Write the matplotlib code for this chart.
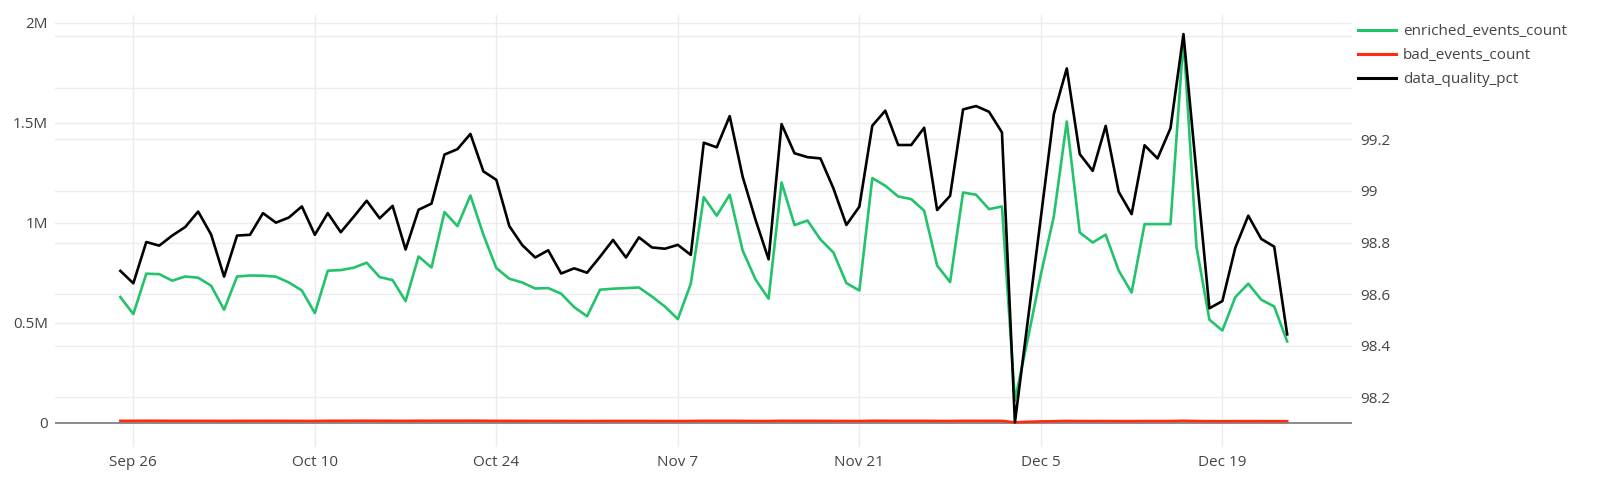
import numpy as np
import pandas as pd
import matplotlib
matplotlib.use("Agg")
import matplotlib.pyplot as plt
import matplotlib.dates as mdates
from matplotlib.lines import Line2D

plt.rcParams['font.family'] = ['Open Sans', 'DejaVu Sans']

# daily values, Sep 25 .. Dec 24
dates = pd.date_range("2022-09-25", "2022-12-24", freq="D")

enriched_m = [
    0.627, 0.542, 0.744, 0.742, 0.709, 0.730,                      # Sep 25-30
    0.724, 0.684, 0.564, 0.730, 0.735, 0.734, 0.729, 0.700, 0.660, 0.547,
    0.759, 0.762, 0.774, 0.799, 0.727, 0.712, 0.607, 0.830, 0.775, 1.052,
    0.982, 1.135, 0.939, 0.772, 0.719, 0.700, 0.670, 0.672, 0.644, 0.577,
    0.531,                                                          # Oct
    0.664, 0.669, 0.672, 0.675, 0.630, 0.580, 0.517, 0.694, 1.127, 1.034,
    1.139, 0.860, 0.714, 0.619, 1.200, 0.987, 1.010, 0.915, 0.850, 0.697,
    0.660, 1.222, 1.184, 1.130, 1.117, 1.059, 0.785, 0.702, 1.150, 1.139,  # Nov
    1.067, 1.080, 0.110, 0.420, 0.740, 1.030, 1.505, 0.950, 0.900, 0.939,
    0.760, 0.650, 0.992, 0.992, 0.992, 1.922, 0.880, 0.514, 0.460, 0.627,
    0.694, 0.614, 0.580, 0.405,                                     # Dec
]
enriched = [v * 1e6 for v in enriched_m]

bad = [
    8200, 8400, 8600, 8500, 8300, 8400,
    8200, 8100, 7900, 8000, 8100, 8300, 8200, 8000, 7800, 7600,
    8400, 8500, 8600, 8800, 8500, 8400, 8100, 8700, 8500, 8900,
    8700, 9000, 8600, 8200, 8000, 7900, 7800, 7800, 7700, 7500,
    7300,
    7600, 7600, 7700, 7700, 7500, 7400, 7200, 7600, 8300, 8100,
    8300, 7800, 7500, 7300, 8400, 8000, 8000, 7900, 7800, 7500,
    7400, 8500, 8400, 8300, 8300, 8200, 7700, 7500, 8200, 8200,
    8000, 8000, 500, 3500, 5500, 6500, 7800, 7200, 7100, 7200,
    6900, 6800, 7300, 7300, 7300, 8600, 7200, 6600, 6500, 6700,
    6800, 6700, 6600, 6400,
]

quality = [
    98.690, 98.642, 98.802, 98.788, 98.827, 98.860,
    98.920, 98.831, 98.668, 98.827, 98.830, 98.914, 98.877, 98.897, 98.940, 98.830,
    98.914, 98.840, 98.900, 98.962, 98.894, 98.942, 98.773, 98.927, 98.951, 99.141,
    99.162, 99.221, 99.076, 99.043, 98.864, 98.790, 98.742, 98.770, 98.680, 98.700,
    98.683,
    98.745, 98.810, 98.742, 98.820, 98.781, 98.776, 98.791, 98.752, 99.187, 99.169,
    99.290, 99.055, 98.887, 98.735, 99.259, 99.146, 99.131, 99.126, 99.010, 98.868,
    98.939, 99.253, 99.311, 99.178, 99.178, 99.245, 98.926, 98.981, 99.316, 99.329,
    99.307, 99.227, 98.103, 98.500, 98.897, 99.297, 99.475, 99.143, 99.078, 99.252,
    98.997, 98.910, 99.177, 99.126, 99.243, 99.608, 99.072, 98.545, 98.573, 98.780,
    98.904, 98.814, 98.784, 98.444,
]

left_ticks = [0, 0.5e6, 1e6, 1.5e6, 2e6]
left_labels = ["0", "0.5M", "1M", "1.5M", "2M"]
right_grid = [98.2, 98.4, 98.6, 98.8, 99.0, 99.2, 99.4, 99.6]
right_ticks = [98.2, 98.4, 98.6, 98.8, 99.0, 99.2]
right_labels = ["98.2", "98.4", "98.6", "98.8", "99", "99.2"]
xtick_dates = pd.to_datetime(["2022-09-26", "2022-10-10", "2022-10-24", "2022-11-07",
                              "2022-11-21", "2022-12-05", "2022-12-19"])

green = "#22c36a"
red = "#ff2a10"
txt = "#444444"
grid_c = "#ebebf1"

fig = plt.figure(figsize=(16, 4.84), dpi=100)
ax = fig.add_axes([55 / 1600, 37 / 484, 1297 / 1600, 432 / 484])
ax2 = ax.twinx()

ylo, yhi = -0.1225e6, 2.0375e6
y2lo, y2hi = 98.0074, 99.682
ax.set_ylim(ylo, yhi)
ax2.set_ylim(y2lo, y2hi)
ax.set_xlim(pd.Timestamp("2022-09-19 23:00"), pd.Timestamp("2022-12-29"))


def right_to_left(v):
    return ylo + (v - y2lo) / (y2hi - y2lo) * (yhi - ylo)


# grid (all under the traces)
for t in left_ticks[1:]:
    ax.axhline(t, color=grid_c, lw=1.0, zorder=0)
for t in right_grid:
    ax.axhline(right_to_left(t), color=grid_c, lw=1.0, zorder=0)
for d in xtick_dates:
    ax.axvline(d, color=grid_c, lw=1.0, zorder=0)
ax.axhline(0, color="#8a8a8a", lw=1.4, zorder=1)

ax.plot(dates, enriched, color=green, lw=1.9, zorder=3)
ax.plot(dates, bad, color=red, lw=1.9, zorder=3)
ax2.plot(dates, quality, color="black", lw=1.9, zorder=3)

ax.set_yticks(left_ticks)
ax.set_yticklabels(left_labels)
ax2.set_yticks(right_ticks)
ax2.set_yticklabels(right_labels)
ax.set_xticks(xtick_dates)
ax.xaxis.set_major_formatter(mdates.DateFormatter("%b %-d"))

for a in (ax, ax2):
    for s in a.spines.values():
        s.set_visible(False)
    a.tick_params(length=0, labelsize=11, labelcolor=txt)
ax.tick_params(axis="y", pad=5)
ax.tick_params(axis="x", pad=6)
ax2.tick_params(axis="y", pad=6)

handles = [Line2D([], [], color=green, lw=2.2),
           Line2D([], [], color=red, lw=2.2),
           Line2D([], [], color="black", lw=2.2)]
leg = fig.legend(handles, ["enriched_events_count", "bad_events_count", "data_quality_pct"],
                 loc="upper left", bbox_to_anchor=(1358 / 1600, 1 - 24 / 484),
                 frameon=False, fontsize=11, handlelength=2.5, handletextpad=0.45,
                 labelspacing=0.6, borderpad=0, borderaxespad=0)
for t in leg.get_texts():
    t.set_color(txt)

fig.savefig("out.png", dpi=100, facecolor="white")
